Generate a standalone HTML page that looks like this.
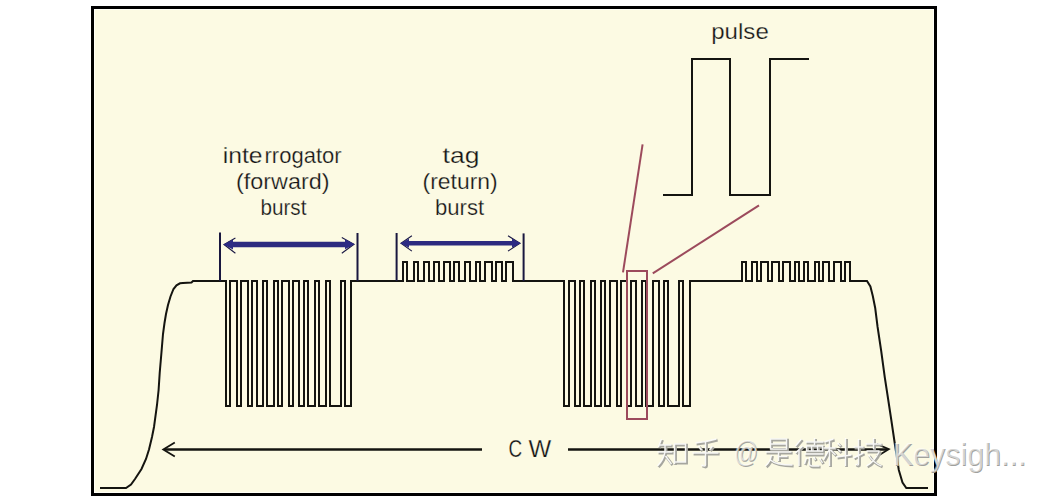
<!DOCTYPE html>
<html><head><meta charset="utf-8">
<style>
html,body{margin:0;padding:0;background:#ffffff;width:1050px;height:500px;overflow:hidden;}
svg{position:absolute;left:0;top:0;display:block;}
text{font-family:"Liberation Sans",sans-serif;}
</style></head>
<body>
<svg width="1050" height="500" viewBox="0 0 1050 500">
<rect x="92.5" y="7.5" width="843" height="487" fill="#FCFAE3" stroke="#000" stroke-width="3"/>
<rect x="94.5" y="9.5" width="839" height="483" fill="none" stroke="#FFFFF6" stroke-width="1"/>
<path d="M100 488 L126 488 L131 484.5 L135 479 L141.5 469 L146 459 L149 449.5 L152 437 L154 427 L157 405 L158.6 390 L159.7 373 L161.5 352 L163 334 L164.5 323 L166 314 L168 305 L170.5 296.5 L173.5 289 L176.5 285.3 L180 283.3 L183 283 L191.5 282.5 L193 281 L226 281 L226 406 L230 406 L230 281 L237 281 L237 406 L241 406 L241 281 L248 281 L248 406 L252 406 L252 281 L257 281 L257 406 L263 406 L263 281 L267 281 L267 406 L274 406 L274 281 L278 281 L278 406 L282 406 L282 281 L289 281 L289 406 L293 406 L293 281 L299 281 L299 406 L304 406 L304 281 L308 281 L308 406 L315 406 L315 281 L319 281 L319 406 L326 406 L326 281 L330 281 L330 406 L341 406 L341 281 L345 281 L345 406 L351 406 L351 281 L403 281 L403 262 L407 262 L407 281 L414 281 L414 262 L418 262 L418 281 L424 281 L424 262 L429 262 L429 281 L434 281 L434 262 L439 262 L439 281 L444 281 L444 262 L450 262 L450 281 L454 281 L454 262 L459 262 L459 281 L465 281 L465 262 L470 262 L470 281 L476 281 L476 262 L480 262 L480 281 L485 281 L485 262 L492 262 L492 281 L496 281 L496 262 L502 262 L502 281 L506 281 L506 262 L513 262 L513 281 L564 281 L564 406 L569 406 L569 281 L575 281 L575 406 L580 406 L580 281 L584 281 L584 406 L591 406 L591 281 L595 281 L595 406 L601 406 L601 281 L605 281 L605 406 L610 406 L610 281 L617 281 L617 406 L621 406 L621 281 L627 281 L627 406 L631 406 L631 281 L636 281 L636 406 L642 406 L642 281 L646 281 L646 406 L653 406 L653 281 L659 281 L659 406 L664 406 L664 281 L668 281 L668 406 L679 406 L679 281 L683 281 L683 406 L690 406 L690 281 L742 281 L742 262 L746 262 L746 281 L752 281 L752 262 L757 262 L757 281 L761 281 L761 262 L768 262 L768 281 L772 281 L772 262 L779 262 L779 281 L783 281 L783 262 L790 262 L790 281 L795 281 L795 262 L799 262 L799 281 L804 281 L804 262 L808 262 L808 281 L815 281 L815 262 L819 262 L819 281 L823 281 L823 262 L829 262 L829 281 L834 281 L834 262 L841 262 L841 281 L845 281 L845 262 L850 262 L850 281 L867 281 L870.4 286.4 L872.8 296 L875.2 308 L877.6 327 L881.2 351 L884.8 377.5 L887.5 395 L891.3 420 L895 445 L898.8 470 L902.5 482.5 L906.3 488 L928 488" fill="none" stroke="#141410" stroke-width="2" stroke-linejoin="miter"/>
<!-- pulse inset -->
<path d="M663 195 L692 195 L692 59 L730 59 L730 195 L770 195 L770 59 L809 59" fill="none" stroke="#141410" stroke-width="2"/>
<!-- pink -->
<g stroke="#9C4A5C" stroke-width="2" fill="none">
<rect x="627" y="271" width="20" height="148"/>
<line x1="642.6" y1="144.4" x2="623" y2="272.4"/>
<line x1="652.8" y1="273.4" x2="759" y2="205.3"/>
</g>
<!-- blue arrows -->
<g stroke="#19173F" stroke-width="2" fill="none">
<line x1="220" y1="232.5" x2="220" y2="281"/>
<line x1="357.5" y1="233" x2="357.5" y2="281"/>
<line x1="396.6" y1="233" x2="396.6" y2="281"/>
<line x1="523.6" y1="233.4" x2="523.6" y2="281"/>
</g>
<g stroke="#2C2A80" fill="none">
<line x1="228" y1="244.5" x2="350" y2="244.5" stroke-width="5.6"/>
<line x1="405" y1="243.2" x2="516" y2="243.2" stroke-width="4.6"/>
</g>
<g stroke="#1A1844" stroke-width="1.1" fill="none">
<path d="M235.4 237.9 L224 244.5 L235.4 253.2"/>
<path d="M341.8 237.6 L354 244.2 L341.8 253.2"/>
<path d="M411.9 235.8 L401 243.2 L411.9 251.1"/>
<path d="M508 235.8 L520 243.2 L508 251.1"/>
</g>
<g fill="#2C2A84">
<path d="M223.4 244.5 L233 239.5 L233 249.5 Z"/>
<path d="M354.6 244.3 L345 239.3 L345 249.3 Z"/>
<path d="M400.2 243.2 L409 238.7 L409 247.7 Z"/>
<path d="M520.8 243.2 L512 238.7 L512 247.7 Z"/>
</g>
<!-- CW arrow -->
<g stroke="#141410" stroke-width="2.4" fill="none">
<line x1="165" y1="449.5" x2="482" y2="449.5"/>
<line x1="568" y1="449.5" x2="887" y2="449.5"/>
<path d="M174.8 442.5 L163.3 449.4 L174.8 456.4" stroke-width="1.8"/>
<path d="M876.8 444 L888.8 449.2 L876.8 456.4" stroke-width="1.8"/>
</g>
<g fill="#141414" stroke="#FCFAE3" stroke-width="0.25">
<text x="222.8" y="162.9" font-size="22" textLength="39.8" lengthAdjust="spacingAndGlyphs">inte</text><text x="264.5" y="162.9" font-size="22" textLength="77.1" lengthAdjust="spacingAndGlyphs">rrogator</text>
<text x="236" y="189.3" font-size="22" textLength="93.6" lengthAdjust="spacingAndGlyphs">(forward)</text>
<text x="260.4" y="214.8" font-size="22" textLength="46" lengthAdjust="spacingAndGlyphs">burst</text>
<text x="442.6" y="162.9" font-size="22" textLength="36.8" lengthAdjust="spacingAndGlyphs">tag</text>
<text x="422.6" y="189" font-size="22" textLength="75" lengthAdjust="spacingAndGlyphs">(return)</text>
<text x="435" y="214.8" font-size="22" textLength="49.2" lengthAdjust="spacingAndGlyphs">burst</text>
<text x="711.2" y="38.6" font-size="21.5" textLength="57.6" lengthAdjust="spacingAndGlyphs">pulse</text>
<text x="508.6" y="457.2" font-size="24" textLength="13.7" lengthAdjust="spacingAndGlyphs">C</text>
<text x="528.6" y="457.2" font-size="24" textLength="22.7" lengthAdjust="spacingAndGlyphs">W</text>
</g>

<g fill="none" stroke="#A6A69F" stroke-width="2.7" stroke-linecap="butt"><path transform="translate(657.6 439.1)" d="M5 1 L2 9 M3 7 L15 7 M1 14 L16 14 M8.5 7 L8.5 14 M8.5 14 Q7 22 1 28 M9 18 L15 26 M18 6 L29 6 L29 24 L18 24 Z M18 24 L18 26"/><path transform="translate(691.6 439.1)" d="M26 1 Q16 4 5 5 M8 8 L11 12 M22 8 L19 12 M2 15 L28 15 M15 4 L15 27 Q15 29 11 27"/><path transform="translate(764.6 439.1)" d="M7 1 L23 1 L23 11 L7 11 Z M7 6 L23 6 M2 14 L28 14 M15 14 L15 23 M15 18.5 L24 18.5 M8 17 Q7 24 2 28 M7 22 Q12 27 29 27"/><path transform="translate(795.6 439.1)" d="M7 1 L1 8 M8 8 L1 15 M4.5 12 L4.5 28 M11 4 L29 4 M20 0 L20 7 M12 8 L28 8 L28 13 L12 13 Z M17 8 L17 13 M23 8 L23 13 M10 16 L29 16 M12 20 L10 26 M15 19 L15 26 Q15 28 18 28 L25 28 M19 19 L21 22 M25 20 L28 25"/><path transform="translate(823.6 439.1)" d="M11 1 L2 4 M1 10 L13 10 M7 3 L7 28 M7 11 L1 22 M8 12 L13 17 M15 5 L18 8 M15 11 L18 14 M14 19 L29 17 M23 0 L23 28"/><path transform="translate(853.6 439.1)" d="M1 9 L11 9 M6 1 L6 26 Q6 28 3 26 M1 20 L11 15 M13 6 L29 6 M21 0 L21 11 M14 13 L27 13 M27 13 Q22 24 14 28 M16 17 Q21 25 29 28"/></g>
<g fill="none" stroke="#FFFFFF" stroke-width="1.4" stroke-linecap="butt" opacity="0.9"><path transform="translate(656.5 438.0)" d="M5 1 L2 9 M3 7 L15 7 M1 14 L16 14 M8.5 7 L8.5 14 M8.5 14 Q7 22 1 28 M9 18 L15 26 M18 6 L29 6 L29 24 L18 24 Z M18 24 L18 26"/><path transform="translate(690.5 438.0)" d="M26 1 Q16 4 5 5 M8 8 L11 12 M22 8 L19 12 M2 15 L28 15 M15 4 L15 27 Q15 29 11 27"/><path transform="translate(763.5 438.0)" d="M7 1 L23 1 L23 11 L7 11 Z M7 6 L23 6 M2 14 L28 14 M15 14 L15 23 M15 18.5 L24 18.5 M8 17 Q7 24 2 28 M7 22 Q12 27 29 27"/><path transform="translate(794.5 438.0)" d="M7 1 L1 8 M8 8 L1 15 M4.5 12 L4.5 28 M11 4 L29 4 M20 0 L20 7 M12 8 L28 8 L28 13 L12 13 Z M17 8 L17 13 M23 8 L23 13 M10 16 L29 16 M12 20 L10 26 M15 19 L15 26 Q15 28 18 28 L25 28 M19 19 L21 22 M25 20 L28 25"/><path transform="translate(822.5 438.0)" d="M11 1 L2 4 M1 10 L13 10 M7 3 L7 28 M7 11 L1 22 M8 12 L13 17 M15 5 L18 8 M15 11 L18 14 M14 19 L29 17 M23 0 L23 28"/><path transform="translate(852.5 438.0)" d="M1 9 L11 9 M6 1 L6 26 Q6 28 3 26 M1 20 L11 15 M13 6 L29 6 M21 0 L21 11 M14 13 L27 13 M27 13 Q22 24 14 28 M16 17 Q21 25 29 28"/></g>
<text x="734.5" y="462.5" font-size="30" textLength="24.5" lengthAdjust="spacingAndGlyphs" fill="#A3A39C">@</text>
<text x="733.7" y="461.7" font-size="30" textLength="24.5" lengthAdjust="spacingAndGlyphs" fill="#FFFFFF" opacity="0.6">@</text>
<text x="893.4" y="466" font-size="32" textLength="133.5" lengthAdjust="spacingAndGlyphs" fill="#A0A09C">Keysigh...</text>
<text x="892.6" y="465.2" font-size="32" textLength="133.5" lengthAdjust="spacingAndGlyphs" fill="#FFFFFF" opacity="0.55">Keysigh...</text>

</svg>
</body></html>
